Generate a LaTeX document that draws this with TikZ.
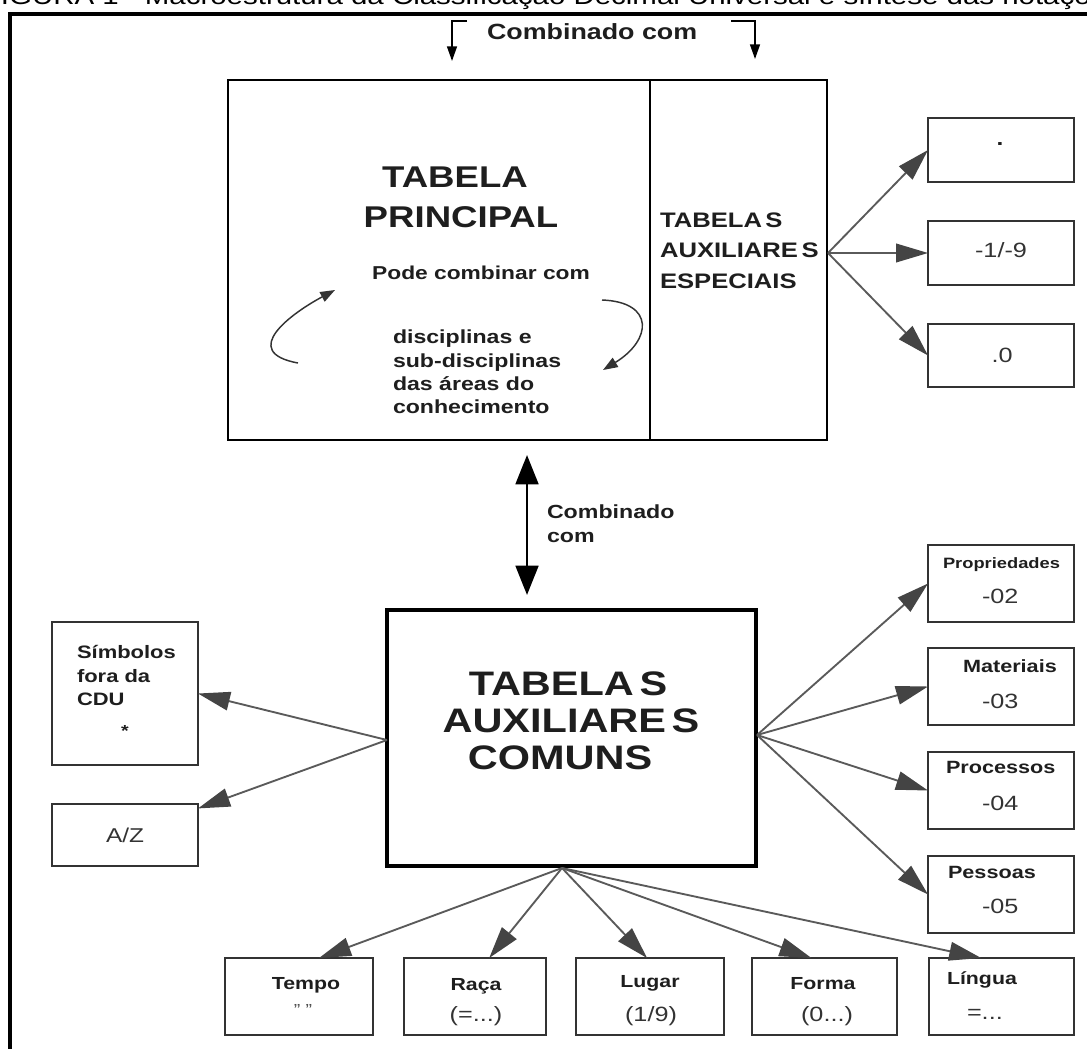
\documentclass[tikz,border=0pt]{standalone}
\usepackage{fontspec}
\setmainfont{Liberation Sans}[FakeStretch=1.22]
\usetikzlibrary{arrows.meta,fit,calc}
\definecolor{arrowgray}{HTML}{5A5A5A}
\definecolor{headgray}{HTML}{444444}
\definecolor{boxgray}{HTML}{333333}
\definecolor{ink}{HTML}{1E1E1E}
\newcommand\fsz[2]{\fontsize{#1}{#2}\selectfont}

\begin{document}
\begin{tikzpicture}[x=0.75pt,y=-0.75pt,
  lbl/.style={inner sep=0pt, outer sep=0pt, text=ink},
  bigbox/.style={draw=black, line width=2.2pt, inner sep=0pt, outer sep=0pt},
  smallbox/.style={draw=boxgray, line width=1.7pt, inner sep=0pt, outer sep=0pt},
  conn/.style={draw=arrowgray, line width=1.4pt, -{Triangle[length=24pt,width=14pt,color=headgray,fill=headgray]}},
  dblarrow/.style={draw=black, line width=2.2pt, {Triangle[length=22pt,width=17pt]}-{Triangle[length=22pt,width=17pt]}},
  thinarrow/.style={draw=black, line width=1.1pt, -{Triangle[length=11pt,width=7.5pt]}},
  curvearrow/.style={draw=black!80, line width=1.1pt, -{Triangle[length=11pt,width=8pt]}},
  headfont/.style={font=\bfseries\fsz{22.5}{27}},
  comfont/.style={font=\bfseries\fsz{25.5}{30}},
  smallbold/.style={font=\bfseries\fsz{14.2}{17}},
  valfont/.style={font=\fsz{15.5}{18}, text=black!80},
]
\useasboundingbox (0,0) rectangle (1087,1048);
\clip (0,0) rectangle (1087,1048);

% caption line, partly cut off by the page edge
\node[lbl, anchor=base west, font=\fsz{18.1}{20}, text=black] (cap) at (-17,5)
  {FIGURA 1 - Macroestrutura da Classificação Decimal Universal e síntese das notações};

% outer frame
\draw[line width=3.5pt] (10,1070) -- (10,14) -- (1110,14);

% ---------- main table and special auxiliary tables ----------
\node[bigbox, fit={(228,80) (650,440)}] (princ) {};
\node[bigbox, fit={(650,80) (827,440)}] (espec) {};

\node[lbl, anchor=base, headfont] (tp1) at (455,188) {TABELA};
\node[lbl, anchor=base, headfont] (tp2) at (461,228) {PRINCIPAL};
\node[lbl, anchor=base, font=\bfseries\fsz{14}{16}] (pode) at (481,280) {Pode combinar com};
\node[lbl, anchor=base west, smallbold] (dc1) at (393,343) {disciplinas e};
\node[lbl, anchor=base west, smallbold] (dc2) at (393,367) {sub-disciplinas};
\node[lbl, anchor=base west, smallbold] (dc3) at (393,390) {das áreas do};
\node[lbl, anchor=base west, smallbold] (dc4) at (393,413) {conhecimento};

\node[lbl, anchor=base west, font=\bfseries\fsz{15.75}{18}] (es1) at (660,228) {TABELA\,S};
\node[lbl, anchor=base west, font=\bfseries\fsz{15.75}{18}] (es2) at (660,258) {AUXILIARE\,S};
\node[lbl, anchor=base west, font=\bfseries\fsz{15.75}{18}] (es3) at (660,288) {ESPECIAIS};

% circular "combine" arrows
\coordinate (cl0) at (298,363);
\coordinate (cl1) at (335,290);
\draw[curvearrow] (cl0) .. controls (238,352) and (292,313) .. (cl1);
\coordinate (cr0) at (602,300);
\coordinate (cr1) at (603,370);
\draw[curvearrow] (cr0) .. controls (655,302) and (652,340) .. (cr1);

% "Combinado com" brackets on top
\node[lbl, anchor=base west, font=\bfseries\fsz{16.5}{19}] (topc) at (487,40) {Combinado com};
\coordinate (bl0) at (467,21);
\coordinate (bl1) at (452,21);
\coordinate (bl2) at (452,61);
\coordinate (br0) at (731,21);
\coordinate (br1) at (755,21);
\coordinate (br2) at (755,59);
\draw[thinarrow] (bl0) -- (bl1) -- (bl2);
\draw[thinarrow] (br0) -- (br1) -- (br2);

% special auxiliary signs
\node[smallbox, fit={(928,118) (1074,182)}] (sp1) {};
\node[smallbox, fit={(928,221) (1074,285)}] (sp2) {};
\node[smallbox, fit={(928,324) (1074,387)}] (sp3) {};
\node[lbl, anchor=base, font=\bfseries\fsz{15}{18}] (sv1) at (1000,146) {.};
\node[lbl, anchor=base, valfont] (sv2) at (1001,258) {-1/-9};
\node[lbl, anchor=base, valfont] (sv3) at (1002,362) {.0};
\coordinate (fanE) at (828,253);
\draw[conn] (fanE) -- (sp1.west);
\draw[conn] (fanE) -- (sp2.west);
\draw[conn] (fanE) -- (sp3.west);

% ---------- link between main table and common auxiliaries ----------
\coordinate (dTop) at (527,455);
\coordinate (dBot) at (527,595);
\draw[dblarrow] (dTop) -- (dBot);
\node[lbl, anchor=base west, font=\bfseries\fsz{14.25}{17}] (mc1) at (547,518) {Combinado};
\node[lbl, anchor=base west, font=\bfseries\fsz{14.25}{17}] (mc2) at (547,542) {com};

% ---------- common auxiliary tables ----------
\node[bigbox, line width=3pt, fit={(387,610) (756,866)}] (comuns) {};
\node[lbl, anchor=base, comfont] (cm1) at (568,695) {TABELA\,S};
\node[lbl, anchor=base, comfont] (cm2) at (571,732) {AUXILIARE\,S};
\node[lbl, anchor=base, comfont] (cm3) at (560,769) {COMUNS};

% right column
\node[smallbox, fit={(928,545) (1074,622)}] (prop) {};
\node[smallbox, fit={(928,648) (1074,725)}] (mat) {};
\node[smallbox, fit={(928,752) (1074,829)}] (proc) {};
\node[smallbox, fit={(928,856) (1074,933)}] (pess) {};
\node[lbl, anchor=base west, font=\bfseries\fsz{11.25}{13}] (pl) at (943,568) {Propriedades};
\node[lbl, anchor=base west, valfont] (pv) at (982,603) {-02};
\node[lbl, anchor=base west, font=\bfseries\fsz{13.3}{16}] (ml) at (963,672) {Materiais};
\node[lbl, anchor=base west, valfont] (mv) at (982,708) {-03};
\node[lbl, anchor=base west, font=\bfseries\fsz{13.3}{16}] (rl) at (946,773) {Processos};
\node[lbl, anchor=base west, valfont] (rv) at (982,810) {-04};
\node[lbl, anchor=base west, font=\bfseries\fsz{13.3}{16}] (el) at (948,878) {Pessoas};
\node[lbl, anchor=base west, valfont] (ev) at (982,913) {-05};
\coordinate (fanR) at (757,735);
\draw[conn] (fanR) -- (prop.west);
\draw[conn] (fanR) -- (mat.west);
\draw[conn] (fanR) -- (proc.west);
\draw[conn] (fanR) -- (pess.west);

% left column
\node[smallbox, fit={(52,622) (198,765)}] (simb) {};
\node[smallbox, fit={(52,804) (198,866)}] (az) {};
\node[lbl, anchor=base west, font=\bfseries\fsz{13.5}{16}] (sb1) at (77,658) {Símbolos};
\node[lbl, anchor=base west, font=\bfseries\fsz{13.5}{16}] (sb2) at (77,682) {fora da};
\node[lbl, anchor=base west, font=\bfseries\fsz{13.5}{16}] (sb3) at (77,705) {CDU};
\node[lbl, anchor=base, font=\bfseries\fsz{12}{14}] (sb4) at (125,736) {*};
\node[lbl, anchor=base, font=\fsz{15}{18}, text=black!80] (azt) at (125,842) {A/Z};
\coordinate (fanW) at (387,740);
\draw[conn] (fanW) -- (simb.east);
\draw[conn] (fanW) -- (az.20);

% bottom row
\node[smallbox, fit={(225,958) (373,1035)}] (tempo) {};
\node[smallbox, fit={(404,958) (546,1035)}] (raca) {};
\node[smallbox, fit={(576,958) (724,1035)}] (lugar) {};
\node[smallbox, fit={(752,958) (897,1035)}] (forma) {};
\node[smallbox, fit={(929,958) (1074,1035)}] (lingua) {};
\node[lbl, anchor=base, font=\bfseries\fsz{13.1}{16}] (tl) at (306,989) {Tempo};
\node[lbl, anchor=base, font=\fsz{12}{14}, text=black!70] (tv) at (303,1015) {" "};
\node[lbl, anchor=base, font=\bfseries\fsz{13.1}{16}] (ral) at (476,990) {Raça};
\node[lbl, anchor=base, valfont] (rav) at (476,1021) {(=...)};
\node[lbl, anchor=base, font=\bfseries\fsz{13.1}{16}] (lul) at (650,987) {Lugar};
\node[lbl, anchor=base, valfont] (luv) at (651,1021) {(1/9)};
\node[lbl, anchor=base, font=\bfseries\fsz{13.1}{16}] (fol) at (823,989) {Forma};
\node[lbl, anchor=base, valfont] (fov) at (827,1021) {(0...)};
\node[lbl, anchor=base west, font=\bfseries\fsz{13.1}{16}] (lil) at (947,984) {Língua};
\node[lbl, anchor=base west, valfont] (liv) at (967,1019) {=...};
\coordinate (fanS) at (562,868);
\draw[conn] (fanS) -- ($(tempo.north west)!0.635!(tempo.north east)$);
\draw[conn] (fanS) -- ($(raca.north west)!0.6!(raca.north east)$);
\draw[conn] (fanS) -- ($(lugar.north west)!0.48!(lugar.north east)$);
\draw[conn] (fanS) -- ($(forma.north west)!0.41!(forma.north east)$);
\draw[conn] (fanS) -- ($(lingua.north west)!0.36!(lingua.north east)$);
\end{tikzpicture}
\end{document}
